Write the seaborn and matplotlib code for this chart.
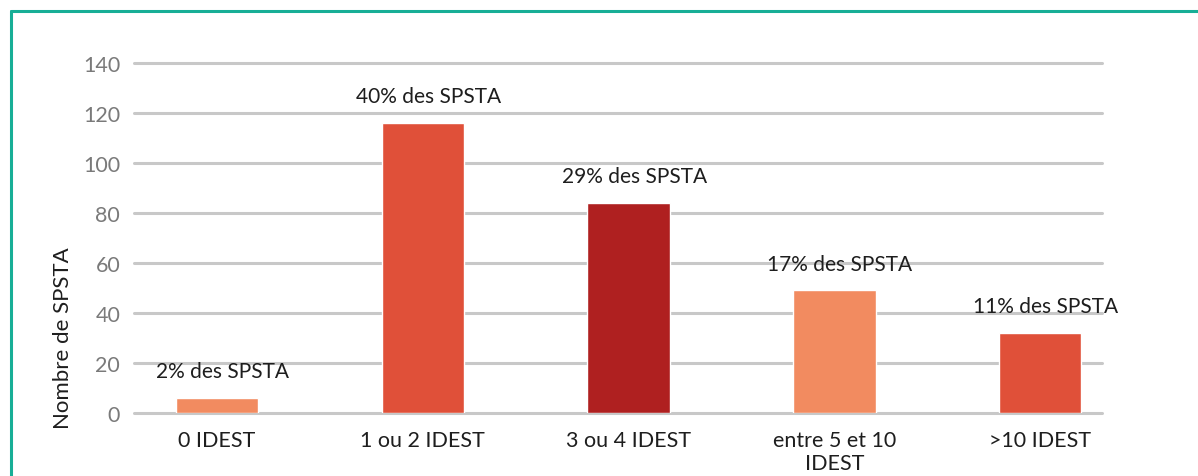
import pandas as pd
import seaborn as sns
import matplotlib.pyplot as plt
from matplotlib.lines import Line2D

# --- data ---
categories = ['0 IDEST', '1 ou 2 IDEST', '3 ou 4 IDEST', 'entre 5 et 10\nIDEST', '>10 IDEST']
counts = [6, 116, 84, 49, 32]
shares = ['2%', '40%', '29%', '17%', '11%']
bar_colors = ['#F28B60', '#E05039', '#AF2020', '#F28B60', '#E05039']

df = pd.DataFrame({'categorie': categories, 'nombre': counts})

sns.set_style('white')
plt.rcParams['font.family'] = ['Lato', 'DejaVu Sans']

fig = plt.figure(figsize=(11.98, 4.77), dpi=100)
ax = fig.add_axes([0.1119, 0.1321, 0.808, 0.7337])

sns.barplot(data=df, x='categorie', y='nombre', hue='categorie',
            palette=bar_colors, saturation=1, width=0.40, legend=False,
            ax=ax, zorder=3)

# value labels above each bar
for i, (n, s) in enumerate(zip(counts, shares)):
    ax.annotate(f'{s} des SPSTA', xy=(i, n), xytext=(4, 12),
                textcoords='offset points', ha='center', va='bottom',
                fontsize=15, color='#1e1e1e')

ax.set_ylim(0, 140)
ax.set_yticks(range(0, 141, 20))
ax.set_xlim(-0.403, 4.30)
ax.yaxis.grid(True, color='#c8c8c8', linewidth=2.2)
for gl in ax.get_ygridlines():
    gl.set_clip_on(False)
ax.set_axisbelow(True)
sns.despine(ax=ax, left=True, bottom=True)

ax.tick_params(axis='y', length=0, pad=10, labelsize=15.5, labelcolor='#7a7a7a')
ax.tick_params(axis='x', length=0, pad=12, labelsize=15.5, labelcolor='#1e1e1e')
ax.set_xlabel('')
ax.set_ylabel('Nombre de SPSTA', fontsize=16, color='#1e1e1e')
# the axis title sits low in the reference, not centred on the axis
ax.yaxis.set_label_coords(-0.063, 0.217)

# teal frame around the chart (left and top edges visible)
teal = '#17AE96'
fig.add_artist(Line2D([11 / 1198, 11 / 1198], [0, 1 - 12 / 477], color=teal,
                      linewidth=2.2, transform=fig.transFigure))
fig.add_artist(Line2D([11 / 1198, 1], [1 - 12 / 477, 1 - 12 / 477], color=teal,
                      linewidth=2.2, transform=fig.transFigure))

fig.savefig('out.png', dpi=100)
